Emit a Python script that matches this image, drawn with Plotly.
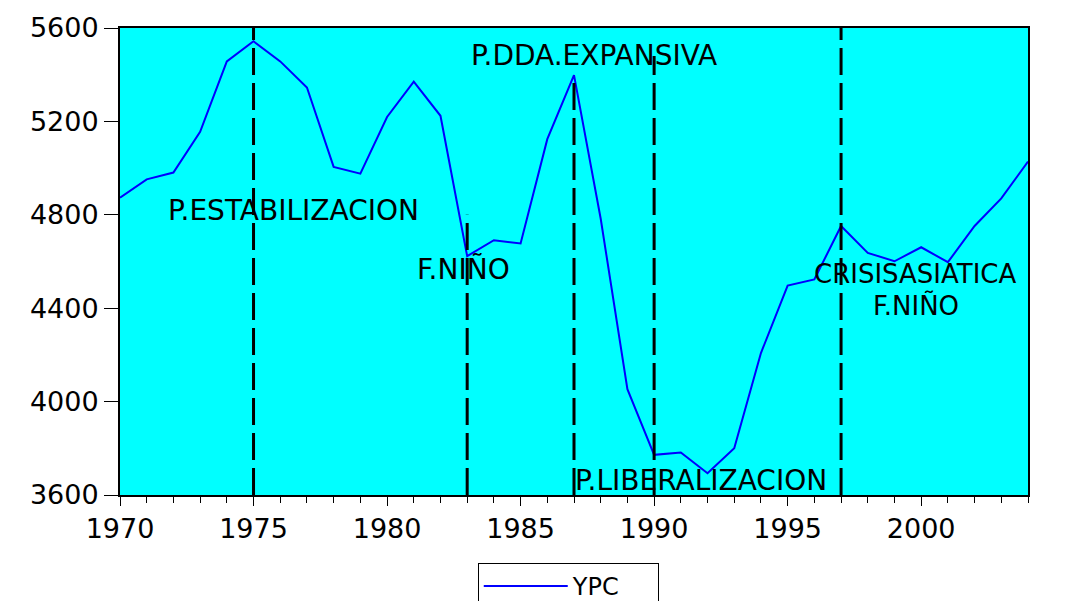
import plotly.graph_objects as go

# Annual series YPC, 1970-2004
years = list(range(1970, 2005))
ypc = [4873, 4952, 4981, 5155, 5457, 5543, 5457, 5345, 5005, 4976,
       5219, 5370, 5224, 4623, 4691, 4677, 5124, 5398, 4783, 4053,
       3772, 3782, 3693, 3800, 4208, 4497, 4523, 4752, 4637, 4601,
       4661, 4597, 4752, 4870, 5028]

# Event markers: year and the top of each dashed line
event_years = [1975, 1983, 1987, 1990, 1997]
event_tops = [5600, 4800, 5380, 5480, 5600]

# Event labels
label_texts = ["P.ESTABILIZACION", "F.NIÑO", "P.DDA.EXPANSIVA",
               "CRISISASIATICA", "F.NIÑO", "P.LIBERALIZACION"]
label_x = [1976.5, 1982.85, 1987.75, 1999.78, 1999.8, 1991.76]
label_y = [4820, 4566, 5482, 4545, 4410, 3662]
label_size = [28, 28, 28, 26, 26, 28]

y_ticks = [3600, 4000, 4400, 4800, 5200, 5600]
x_ticks = [1970, 1975, 1980, 1985, 1990, 1995, 2000]

FONT = "DejaVu Sans"

fig = go.Figure()
fig.add_trace(go.Scatter(
    x=years, y=ypc, mode="lines", name="YPC",
    line=dict(color="#0000FF", width=2),
))

for yr, top in zip(event_years, event_tops):
    fig.add_shape(
        type="line", xref="x", yref="y",
        x0=yr, x1=yr, y0=3600, y1=top,
        line=dict(color="black", width=3, dash="27px,8px"),
    )

for txt, lx, ly, sz in zip(label_texts, label_x, label_y, label_size):
    fig.add_annotation(
        x=lx, y=ly, xref="x", yref="y", text=txt, showarrow=False,
        xanchor="center", yanchor="middle",
        font=dict(family=FONT, size=sz, color="black"),
    )

fig.update_layout(
    width=1067, height=601,
    margin=dict(l=120, r=39, t=28, b=106, autoexpand=False),
    paper_bgcolor="white",
    plot_bgcolor="#00FFFF",
    font=dict(family=FONT, color="black"),
    showlegend=True,
    legend=dict(
        x=0.394, y=-0.1456, xanchor="left", yanchor="top",
        orientation="h",
        bordercolor="black", borderwidth=1, bgcolor="white",
        font=dict(family=FONT, size=24, color="black"),
        itemwidth=84, entrywidth=80,
    ),
)

fig.update_xaxes(
    range=[1970, 2004], tickvals=x_ticks,
    showline=True, linecolor="black", linewidth=2, mirror=True,
    ticks="outside", ticklen=9, tickwidth=1, tickcolor="black",
    minor=dict(dtick=1, tick0=1970, ticks="outside", ticklen=6,
               tickcolor="black", tickwidth=1),
    showgrid=False, zeroline=False,
    tickfont=dict(family=FONT, size=27, color="black"),
)
fig.update_yaxes(
    range=[3600, 5600], tickvals=y_ticks,
    showline=True, linecolor="black", linewidth=2, mirror=True,
    ticks="outside", ticklen=14, tickwidth=1, tickcolor="black",
    showgrid=False, zeroline=False,
    tickfont=dict(family=FONT, size=27, color="black"),
)

fig.write_html("out.html")
